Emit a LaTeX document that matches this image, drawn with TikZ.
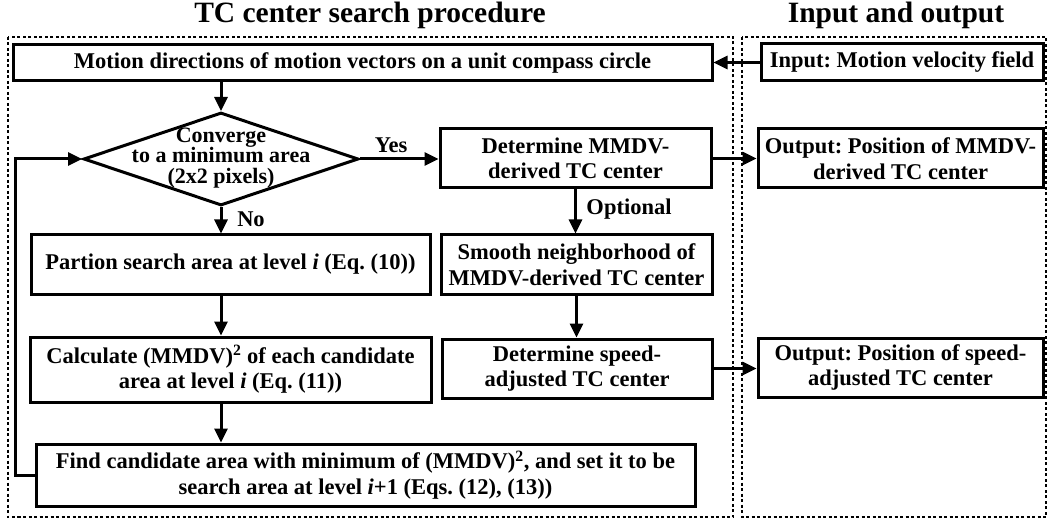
\documentclass[tikz,border=0pt]{standalone}
\usepackage{fontspec}
\setmainfont{Liberation Serif}
\usetikzlibrary{arrows.meta,shapes.geometric}
\newcommand\boxfont{\bfseries\fontsize{22.5}{25.5}\selectfont}
\newcommand\diafont{\bfseries\fontsize{22}{20.5}\selectfont}
\newcommand\titlefont{\bfseries\fontsize{29.5}{32}\selectfont}
\frenchspacing
\begin{document}
\begin{tikzpicture}[x=1pt,y=-1pt,
  box/.style={draw, line width=3pt, inner sep=0pt, align=center, font=\boxfont},
  flow/.style={line width=3pt, -{Triangle[length=14pt,width=13pt]}},
  frame/.style={draw, line width=1.6pt, dash pattern=on 3pt off 2.5pt},
  lbl/.style={font=\boxfont, inner sep=0pt},
  title/.style={font=\titlefont, inner sep=0pt, anchor=base}]
\useasboundingbox (0,0) rectangle (1049,521);

% dotted group frames
\draw[frame] (8,37) rectangle (733,517);
\draw[frame] (742,37) rectangle (1046,517);

% group titles
\node[title] (tleft) at (370,23) {TC center search procedure};
\node[title] (tright) at (896,23) {Input and output};

% search procedure
\node[box, minimum width=699pt, minimum height=36pt] (motion) at (362.5,63)
  {Motion directions of motion vectors on a unit compass circle};
\node[draw, diamond, line width=3pt, inner sep=0pt,
  minimum width=275pt, minimum height=93pt] (dia) at (221,159) {};
\node[font=\diafont, align=center, inner sep=0pt] (diatext) at (221,158)
  {Converge\\to a minimum area\\(2x2 pixels)};
\node[box, minimum width=399pt, minimum height=59pt] (part) at (230.5,264.5)
  {Partion search area at level \textit{i} (Eq. (10))};
\node[box, minimum width=401pt, minimum height=65pt] (calc) at (230.5,369.5)
  {Calculate (MMDV)\textsuperscript{2} of each candidate\\area at level \textit{i} (Eq. (11))};
\node[box, minimum width=659pt, minimum height=62pt] (find) at (365.5,475)
  {Find candidate area with minimum of (MMDV)\textsuperscript{2}, and set it to be\\search area at level \textit{i}+1 (Eqs. (12), (13))};

\node[box, minimum width=271pt, minimum height=59pt] (det1) at (575.5,158.5)
  {Determine MMDV-\\derived TC center};
\node[box, minimum width=271pt, minimum height=59pt] (smooth) at (576.5,264.5)
  {Smooth neighborhood of\\MMDV-derived TC center};
\node[box, minimum width=270pt, minimum height=59pt] (det2) at (577,368.5)
  {Determine speed-\\adjusted TC center};

% input and output
\node[box, minimum width=282pt, minimum height=37pt] (input) at (902,62.5)
  {Input: Motion velocity field};
\node[box, minimum width=285pt, minimum height=59pt] (out1) at (900.5,158.5)
  {Output: Position of MMDV-\\derived TC center};
\node[box, minimum width=285pt, minimum height=59pt] (out2) at (900.5,367.5)
  {Output: Position of speed-\\adjusted TC center};

% connectors
\draw[flow] (input.west) -- (motion.east |- input.west);
\draw[flow] (dia.north |- motion.south) -- (dia.north);
\draw[flow] (dia.east) -- (det1.west |- dia.east);
\node[lbl] (yes) at (391,145) {Yes};
\draw[flow] (det1.east) -- (out1.west |- det1.east);
\draw[flow] (dia.south) -- (dia.south |- part.north);
\node[lbl] (no) at (251,219) {No};
\draw[flow] (det1.south) -- (det1.south |- smooth.north);
\node[lbl] (opt) at (629,209) {Optional};
\draw[flow] (dia.south |- part.south) -- (dia.south |- calc.north);
\draw[flow] (smooth.south) -- (smooth.south |- det2.north);
\draw[flow] (det2.east) -- (out2.west |- det2.east);
\draw[flow] (dia.south |- calc.south) -- (dia.south |- find.north);
\coordinate (fb) at (15,159);
\draw[flow] (find.west) -| (fb) -- (dia.west);
\end{tikzpicture}
\end{document}
